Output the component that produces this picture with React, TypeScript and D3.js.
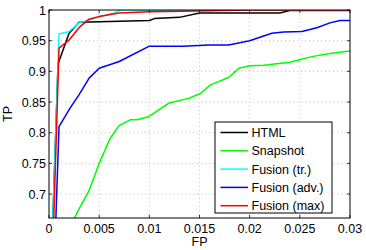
import { useRef, useEffect } from 'react';
import * as d3 from 'd3';

type Pt = [number, number];

const seriesNames = ['HTML', 'Snapshot', 'Fusion (tr.)', 'Fusion (adv.)', 'Fusion (max)'];
const seriesColors = ['#000000', '#00ff00', '#00ffff', '#0000ff', '#ff0000'];

const htmlPts: Pt[] = [
  [0.0003, 0.62], [0.0009, 0.912], [0.002, 0.962], [0.003, 0.98], [0.01, 0.983],
  [0.0105, 0.986], [0.013, 0.988], [0.015, 0.995], [0.023, 0.995], [0.024, 0.999],
  [0.03, 0.999],
];
const snapshotPts: Pt[] = [
  [0.0019, 0.64], [0.003, 0.676], [0.004, 0.706], [0.005, 0.75], [0.0061, 0.791],
  [0.007, 0.812], [0.0081, 0.821], [0.0088, 0.821], [0.0099, 0.826], [0.0119, 0.848],
  [0.0139, 0.856], [0.0151, 0.864], [0.0161, 0.878], [0.0179, 0.89], [0.0189, 0.905],
  [0.02, 0.909], [0.0214, 0.91], [0.024, 0.915], [0.025, 0.919], [0.0262, 0.924],
  [0.028, 0.929], [0.03, 0.933],
];
const trPts: Pt[] = [
  [0.0003, 0.62], [0.001, 0.961], [0.002, 0.965], [0.003, 0.979], [0.004, 0.984],
  [0.0065, 0.995], [0.0071, 1.0], [0.03, 1.0],
];
const advPts: Pt[] = [
  [0.0006, 0.62], [0.001, 0.81], [0.0021, 0.84], [0.003, 0.862], [0.004, 0.889],
  [0.005, 0.905], [0.007, 0.916], [0.01, 0.941], [0.0134, 0.941], [0.0159, 0.943],
  [0.0179, 0.943], [0.02, 0.95], [0.0222, 0.962], [0.0234, 0.964], [0.0252, 0.965],
  [0.0267, 0.971], [0.028, 0.979], [0.029, 0.983], [0.03, 0.983],
];
const maxPts: Pt[] = [
  [0.0004, 0.62], [0.001, 0.938], [0.002, 0.951], [0.0031, 0.973], [0.004, 0.985],
  [0.0051, 0.99], [0.007, 0.995], [0.01, 0.997], [0.0133, 0.998], [0.02, 1.0],
  [0.03, 1.0],
];
const seriesData = [htmlPts, snapshotPts, trPts, advPts, maxPts];

const xTicks = [0, 0.005, 0.01, 0.015, 0.02, 0.025, 0.03];
const xTickLabels = ['0', '0.005', '0.01', '0.015', '0.02', '0.025', '0.03'];
const yTicks = [0.7, 0.75, 0.8, 0.85, 0.9, 0.95, 1];
const yTickLabels = ['0.7', '0.75', '0.8', '0.85', '0.9', '0.95', '1'];

const W = 366;
const H = 250;
const FONT = "'Liberation Sans', Arial, Helvetica, sans-serif";
const FS = '12.5px';

export default function App() {
  const svgRef = useRef<SVGSVGElement>(null);

  useEffect(() => {
    const svg = d3.select(svgRef.current);
    svg.selectAll('*').remove();

    const margin = { top: 10, right: 16, bottom: 32, left: 49 };
    const pw = W - margin.left - margin.right;
    const ph = H - margin.top - margin.bottom;

    const x = d3.scaleLinear().domain([0, 0.03]).range([0, pw]);
    const y = d3.scaleLinear().domain([0.661, 1]).range([ph, 0]);

    svg.append('rect').attr('width', W).attr('height', H).attr('fill', '#fff');

    const g = svg.append('g').attr('transform', `translate(${margin.left},${margin.top})`);

    svg.append('defs').append('clipPath').attr('id', 'plotclip')
      .append('rect').attr('width', pw).attr('height', ph);

    // grid
    for (const t of xTicks.slice(1, -1)) {
      g.append('line').attr('x1', x(t)).attr('x2', x(t)).attr('y1', 0).attr('y2', ph)
        .attr('stroke', '#c4c4c4').attr('stroke-dasharray', '1,3');
    }
    for (const t of yTicks.slice(0, -1)) {
      g.append('line').attr('x1', 0).attr('x2', pw).attr('y1', y(t)).attr('y2', y(t))
        .attr('stroke', '#c4c4c4').attr('stroke-dasharray', '1,3');
    }

    // curves
    const line = d3.line<Pt>().x((d) => x(d[0])).y((d) => y(d[1]));
    const curves = g.append('g').attr('clip-path', 'url(#plotclip)');
    seriesData.forEach((pts, i) => {
      curves.append('path').datum(pts).attr('d', line)
        .attr('fill', 'none').attr('stroke', seriesColors[i])
        .attr('stroke-width', 1.5).attr('stroke-linejoin', 'round');
    });

    // ticks on all sides
    for (const t of xTicks) {
      g.append('line').attr('x1', x(t)).attr('x2', x(t)).attr('y1', ph).attr('y2', ph - 3).attr('stroke', '#333');
      g.append('line').attr('x1', x(t)).attr('x2', x(t)).attr('y1', 0).attr('y2', 3).attr('stroke', '#333');
    }
    for (const t of yTicks) {
      g.append('line').attr('x1', 0).attr('x2', 3).attr('y1', y(t)).attr('y2', y(t)).attr('stroke', '#333');
      g.append('line').attr('x1', pw).attr('x2', pw - 3).attr('y1', y(t)).attr('y2', y(t)).attr('stroke', '#333');
    }

    // frame
    g.append('rect').attr('width', pw).attr('height', ph)
      .attr('fill', 'none').attr('stroke', '#000').attr('stroke-width', 1);

    // tick labels
    xTicks.forEach((t, i) => {
      g.append('text').attr('x', x(t)).attr('y', ph + 14.5)
        .attr('text-anchor', 'middle').attr('font-family', FONT).attr('font-size', FS)
        .attr('fill', '#000').text(xTickLabels[i]);
    });
    yTicks.forEach((t, i) => {
      g.append('text').attr('x', -3).attr('y', y(t) + 4.5)
        .attr('text-anchor', 'end').attr('font-family', FONT).attr('font-size', FS)
        .attr('fill', '#000').text(yTickLabels[i]);
    });

    // axis titles
    svg.append('text').attr('x', margin.left + x(0.015)).attr('y', 245.5)
      .attr('text-anchor', 'middle').attr('font-family', FONT).attr('font-size', FS)
      .text('FP');
    svg.append('text').attr('transform', `translate(12,${margin.top + ph / 2}) rotate(-90)`)
      .attr('text-anchor', 'middle').attr('font-family', FONT).attr('font-size', FS)
      .text('TP');

    // legend
    const lg = svg.append('g').attr('transform', 'translate(215,122)');
    lg.append('rect').attr('width', 117).attr('height', 91)
      .attr('fill', '#fff').attr('stroke', '#000').attr('stroke-width', 1);
    seriesNames.forEach((name, i) => {
      const ly = 10.5 + i * 18.3;
      lg.append('line').attr('x1', 5.5).attr('x2', 33).attr('y1', ly).attr('y2', ly)
        .attr('stroke', seriesColors[i]).attr('stroke-width', 1.5);
      lg.append('text').attr('x', 36.5).attr('y', ly + 4.5)
        .attr('font-family', FONT).attr('font-size', FS).attr('fill', '#000').text(name);
    });
  }, []);

  return (
    <svg
      ref={svgRef}
      width={W}
      height={H}
      viewBox={`0 0 ${W} ${H}`}
      style={{ position: 'absolute', left: 0, top: 0, display: 'block' }}
    />
  );
}
